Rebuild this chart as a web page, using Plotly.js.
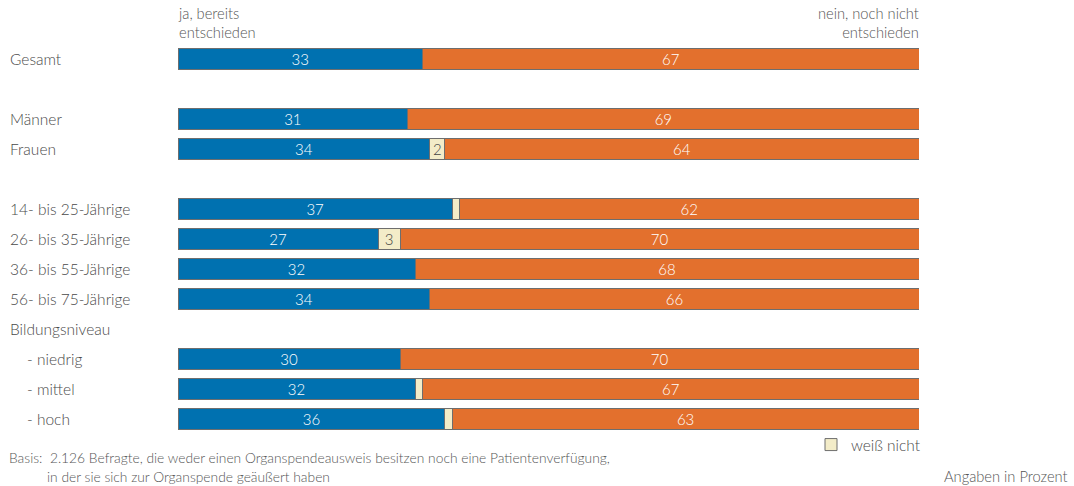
<!DOCTYPE html>
<html>
<head>
<meta charset="utf-8">
<script src="https://cdn.plot.ly/plotly-3.0.1.min.js"></script>
<style>html,body{margin:0;padding:0;background:#fff;}#chart{width:1074px;height:486px;}</style>
</head>
<body>
<div id="chart"></div>
<script>
// Rows of the chart (top to bottom); gap rows have empty labels
const rows = ["Gesamt", "gap1", "Männer", "Frauen", "gap2", "14- bis 25-Jährige", "26- bis 35-Jährige", "36- bis 55-Jährige", "56- bis 75-Jährige", "Bildungsniveau", "- niedrig", "- mittel", "- hoch"];
const rowLabels = ["Gesamt", "", "Männer", "Frauen", "", "14- bis 25-Jährige", "26- bis 35-Jährige", "36- bis 55-Jährige", "56- bis 75-Jährige", "Bildungsniveau", "- niedrig", "- mittel", "- hoch"];
// Rows that carry bars
const barCats = ["Gesamt", "Männer", "Frauen", "14- bis 25-Jährige", "26- bis 35-Jährige", "36- bis 55-Jährige", "56- bis 75-Jährige", "- niedrig", "- mittel", "- hoch"];
const ja = [33, 31, 34, 37, 27, 32, 34, 30, 32, 36];
const weissNicht = [0, 0, 2, 1, 3, 0, 0, 0, 1, 1];
const nein = [67, 69, 64, 62, 70, 68, 66, 70, 67, 63];
const seriesNames = ["ja, bereits entschieden", "weiß nicht", "nein, noch nicht entschieden"];

const FONT = "Lato, 'Open Sans', sans-serif";
const outline = {color: "#6e6e6e", width: 1};
const common = {
  type: "bar", orientation: "h", y: barCats,
  textposition: "inside", insidetextanchor: "middle", constraintext: "none", textangle: 0,
  width: 0.67, hoverinfo: "skip"
};

const traces = [
  Object.assign({}, common, {
    name: seriesNames[0], showlegend: false, x: ja, text: ja.map(String),
    marker: {color: "#0071b0", line: outline},
    textfont: {color: "#ffffff", size: 15, family: FONT, weight: 300}
  }),
  Object.assign({}, common, {
    name: seriesNames[1], showlegend: true,
    x: weissNicht.map(v => v > 0 ? v : null),
    text: weissNicht.map(v => v >= 2 ? String(v) : ""),
    marker: {color: "#f3ecc8", line: outline},
    textfont: {color: "#444444", size: 15, family: FONT, weight: 300}
  }),
  Object.assign({}, common, {
    name: seriesNames[2], showlegend: false, x: nein, text: nein.map(String),
    marker: {color: "#e3702d", line: outline},
    textfont: {color: "#ffffff", size: 15, family: FONT, weight: 300}
  })
];

const W = 741, H = 390; // plot area size in px
const txt = {family: FONT, size: 15.5, color: "#4a4a4a", weight: 300};
const head = {family: FONT, size: 14.7, color: "#555555", weight: 300};
const small = {family: FONT, size: 13.8, color: "#555555", weight: 300};
const annotations = [];
rows.forEach((r, i) => {
  const lbl = rowLabels[i];
  if (!lbl) return;
  annotations.push({
    xref: "paper", yref: "y", x: (8 - 178) / W, y: r, xanchor: "left", yanchor: "middle",
    xshift: lbl.startsWith("-") ? 17 : 0,
    text: lbl, showarrow: false, font: txt
  });
});
annotations.push({
  xref: "paper", yref: "paper", x: -2 / W, y: 1 + 1 / H, xanchor: "left", yanchor: "bottom", align: "left",
  text: "ja, bereits<br>entschieden", showarrow: false, font: head
});
annotations.push({
  xref: "paper", yref: "paper", x: 1 + 2 / W, y: 1 + 1 / H, xanchor: "right", yanchor: "bottom", align: "right",
  text: "nein, noch nicht<br>entschieden", showarrow: false, font: head
});
annotations.push({
  xref: "paper", yref: "paper", x: (8 - 178) / W, y: (434 - 467) / H, xanchor: "left", yanchor: "bottom", align: "left",
  borderpad: 0,
  text: "Basis:  2.126 Befragte, die weder einen Organspendeausweis besitzen noch eine Patientenverfügung,", showarrow: false,
  font: small
});
annotations.push({
  xref: "paper", yref: "paper", x: (46 - 178) / W, y: (434 - 467) / H, xanchor: "left", yanchor: "top", align: "left",
  borderpad: 0,
  text: "in der sie sich zur Organspende geäußert haben", showarrow: false,
  font: small
});
annotations.push({
  xref: "paper", yref: "paper", x: (1070 - 178) / W, y: (434 - 476) / H, xanchor: "right", yanchor: "middle", align: "right",
  text: "Angaben in Prozent", showarrow: false,
  font: head
});

const layout = {
  width: 1074, height: 486,
  margin: {l: 178, r: 155, t: 44, b: 52, pad: 0},
  barmode: "stack",
  paper_bgcolor: "#ffffff", plot_bgcolor: "#ffffff",
  font: txt,
  xaxis: {range: [0, 100], visible: false, fixedrange: true},
  yaxis: {type: "category", categoryorder: "array", categoryarray: rows, range: [12.5, -0.5],
          showticklabels: false, showgrid: false, zeroline: false, showline: false, ticks: "", fixedrange: true},
  showlegend: true,
  legend: {x: 1 + 7 / W, xanchor: "right", y: (434 - 445) / H, yanchor: "middle", orientation: "h",
           font: txt, bgcolor: "rgba(0,0,0,0)", itemwidth: 30, tracegroupgap: 0},
  annotations: annotations,
  hovermode: false
};

Plotly.newPlot("chart", traces, layout, {displayModeBar: false, staticPlot: true});
</script>
</body>
</html>
